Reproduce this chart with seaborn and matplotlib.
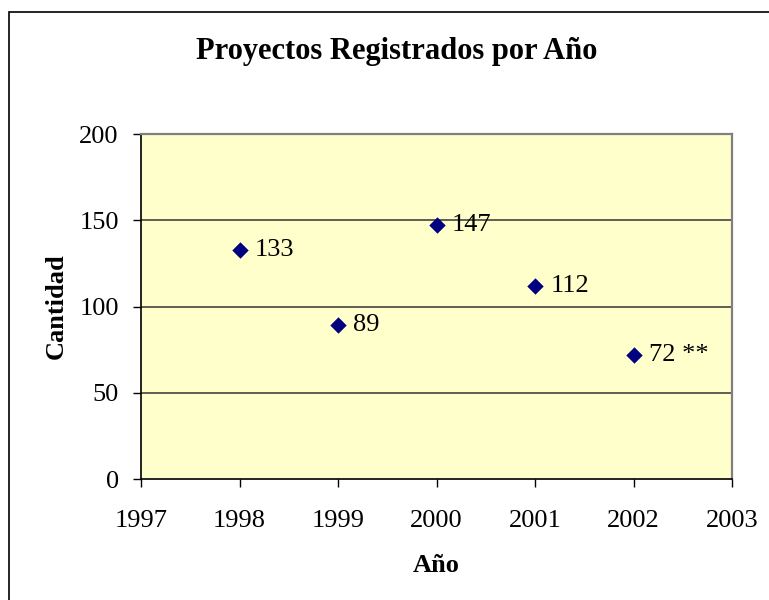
import matplotlib
matplotlib.use("Agg")
import matplotlib.pyplot as plt
import seaborn as sns
import pandas as pd
from matplotlib.patches import Rectangle

# data
years = [1998, 1999, 2000, 2001, 2002]
counts = [133, 89, 147, 112, 72]
point_labels = ["133", "89", "147", "112", "72 **"]
x_ticks = [1997, 1998, 1999, 2000, 2001, 2002, 2003]
y_ticks = [0, 50, 100, 150, 200]

df = pd.DataFrame({"Año": years, "Cantidad": counts})

sns.set_style("white")
plt.rcParams["font.family"] = ["Liberation Serif", "DejaVu Serif"]
plt.rcParams["text.color"] = "black"
plt.rcParams["axes.labelcolor"] = "black"
plt.rcParams["xtick.color"] = "black"
plt.rcParams["ytick.color"] = "black"

fig = plt.figure(figsize=(7.69, 6.0), dpi=100)
ax = fig.add_axes([141 / 769, 1 - 479 / 600, 591 / 769, 345 / 600])
ax.set_facecolor("#FFFFCC")

# horizontal gridlines
for y in y_ticks[1:-1]:
    ax.axhline(y, color="#333333", linewidth=1.1, zorder=1)

sns.scatterplot(data=df, x="Año", y="Cantidad", marker="D", s=70,
                color="#000080", edgecolor="#000080", linewidth=0, ax=ax, zorder=3)

for x, y, lab in zip(years, counts, point_labels):
    ax.annotate(lab, (x, y), xytext=(11, 0), textcoords="offset points",
                va="center", ha="left", fontsize=19, color="black")

ax.set_xlim(1997, 2003)
ax.set_ylim(0, 200)
ax.set_xticks(x_ticks)
ax.set_yticks(y_ticks)
ax.tick_params(axis="both", labelsize=19, length=6, width=1, color="black",
               direction="out", bottom=True, left=True)
ax.tick_params(axis="y", pad=10)
ax.tick_params(axis="x", pad=16)

for side in ["left", "bottom"]:
    ax.spines[side].set_color("black")
    ax.spines[side].set_linewidth(1.2)
for side in ["top", "right"]:
    ax.spines[side].set_color("#808080")
    ax.spines[side].set_linewidth(1.6)

ax.set_xlabel("Año", fontsize=19, fontweight="bold", labelpad=16)
ax.set_ylabel("Cantidad", fontsize=19, fontweight="bold", labelpad=8)

fig.text(397 / 769, 1 - 52 / 600, "Proyectos Registrados por Año",
         ha="center", va="center", fontsize=22, fontweight="bold")

# outer chart border
fig.patches.append(Rectangle((9 / 769, -0.1), 1.2, 0.98 + 0.1,
                             transform=fig.transFigure, fill=False,
                             edgecolor="black", linewidth=1.2))

fig.savefig("out.png", dpi=100)
